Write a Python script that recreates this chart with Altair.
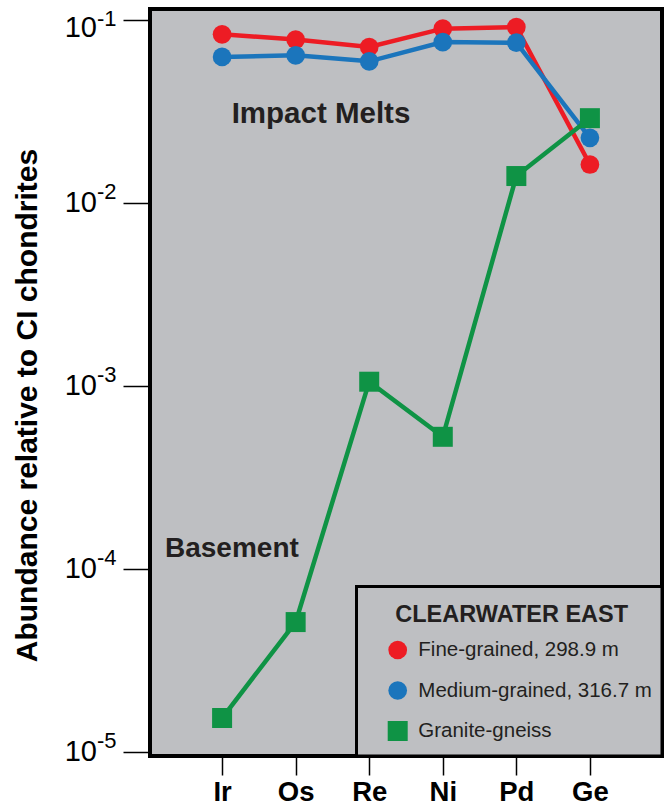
import altair as alt
import pandas as pd

# Siderophile element abundances, normalised to CI chondrites
elements = ["Ir", "Os", "Re", "Ni", "Pd", "Ge"]
fine_grained = [0.0839, 0.0785, 0.0715, 0.0901, 0.0919, 0.0163]
medium_grained = [0.0631, 0.0644, 0.0597, 0.0761, 0.0755, 0.0228]
granite_gneiss = [1.54e-5, 5.15e-5, 1.06e-3, 5.30e-4, 0.0141, 0.0292]

series_names = ["Fine-grained, 298.9 m", "Medium-grained, 316.7 m", "Granite-gneiss"]
series_values = [fine_grained, medium_grained, granite_gneiss]
series_colors = ["#ed1c24", "#1b75bc", "#0f9345"]
series_shapes = ["circle", "circle", "square"]

tick_values = [1e-1, 1e-2, 1e-3, 1e-4, 1e-5]
tick_exponents = ["-1", "-2", "-3", "-4", "-5"]

legend_title = "CLEARWATER EAST"
y_title = "Abundance relative to CI chondrites"
melt_label = "Impact Melts"
basement_label = "Basement"

FONT = "Liberation Sans"
PANEL = "#bebfc2"
W, H = 512, 747

x_enc = alt.X(
    "element:N",
    sort=elements,
    scale=alt.Scale(type="point", domain=elements, padding=0.98),
    axis=alt.Axis(
        title=None, labelAngle=0, domain=False, grid=False,
        tickSize=19, tickWidth=1.5, tickColor="black",
        labelFont=FONT, labelFontSize=27.5, labelFontWeight="bold",
        labelColor="black", labelPadding=3,
    ),
)

y_scale = alt.Scale(type="log", domain=[10 ** -5.02, 10 ** -0.938])
y_enc = alt.Y(
    "value:Q",
    scale=y_scale,
    axis=alt.Axis(
        values=tick_values, labels=False, domain=False, grid=False,
        tickSize=27, tickWidth=1.5, tickColor="black",
        title=y_title, titleFont=FONT, titleFontSize=30, titleFontWeight="bold",
        titleColor="black", titleX=-114, titleY=396, titleBaseline="alphabetic",
    ),
)

layers = []

# series: line first, markers on top; drawn red, blue, then green
for name, vals, color, shape in zip(series_names, series_values, series_colors, series_shapes):
    df = pd.DataFrame({"element": elements, "value": vals, "series": name})
    base = alt.Chart(df)
    layers.append(base.mark_line(color=color, strokeWidth=4.5).encode(x=x_enc, y=y_enc))
    size = 400 if shape == "square" else 350
    layers.append(
        base.mark_point(shape=shape, filled=True, size=size, color=color, opacity=1)
        .encode(x=x_enc, y=y_enc)
    )

# y tick labels written as 10 with a raised exponent; the topmost one sits a
# little lower so it stays inside the page
ticks_df = pd.DataFrame({"value": tick_values, "base": ["10"] * len(tick_values), "exp": tick_exponents})
ticks = alt.Chart(ticks_df)
for flt, base_dy, exp_dy in [("datum.value < 0.05", 0, -11), ("datum.value >= 0.05", 8, -1)]:
    layers.append(
        ticks.transform_filter(flt)
        .mark_text(align="right", baseline="middle", font=FONT, fontSize=29, color="black", dy=base_dy)
        .encode(y=y_enc, x=alt.value(-53), text="base:N")
    )
    layers.append(
        ticks.transform_filter(flt)
        .mark_text(align="left", baseline="middle", font=FONT, fontSize=22, color="black", dy=exp_dy)
        .encode(y=y_enc, x=alt.value(-53), text="exp:N")
    )

one = pd.DataFrame({"k": [0]})

# group annotations
layers.append(
    alt.Chart(one)
    .mark_text(text=melt_label, align="center", baseline="alphabetic", font=FONT,
               fontSize=29.5, fontWeight="bold", color="#231f20")
    .encode(x=alt.value(171), y=alt.value(114))
)
layers.append(
    alt.Chart(one)
    .mark_text(text=basement_label, align="left", baseline="alphabetic", font=FONT,
               fontSize=28, fontWeight="bold", color="#231f20")
    .encode(x=alt.value(15), y=alt.value(548))
)

# legend box
layers.append(
    alt.Chart(one)
    .mark_rect(fill=PANEL, stroke="black", strokeWidth=3)
    .encode(x=alt.value(206.5), x2=alt.value(W), y=alt.value(577.5), y2=alt.value(H))
)
layers.append(
    alt.Chart(one)
    .mark_text(text=legend_title, align="center", baseline="alphabetic", font=FONT,
               fontSize=23.5, fontWeight="bold", color="#231f20")
    .encode(x=alt.value(361.7), y=alt.value(612.7))
)
for i, (name, color, shape) in enumerate(zip(series_names, series_colors, series_shapes)):
    row_y = 641 + i * 40.5
    size = 400 if shape == "square" else 350
    layers.append(
        alt.Chart(one)
        .mark_point(shape=shape, filled=True, size=size, color=color, opacity=1)
        .encode(x=alt.value(247.7), y=alt.value(row_y))
    )
    layers.append(
        alt.Chart(one)
        .mark_text(text=name, align="left", baseline="middle", font=FONT,
                   fontSize=20.5, color="#231f20")
        .encode(x=alt.value(268.3), y=alt.value(row_y))
    )

chart = (
    alt.layer(*layers)
    .properties(
        width=W, height=H,
        autosize=alt.AutoSizeParams(type="none"),
        padding={"left": 150, "top": 9, "right": 7, "bottom": 50},
        background="white",
    )
    .configure_view(stroke="black", strokeWidth=4, fill=PANEL)
)

chart.save("out.html", embed_options={"renderer": "svg", "actions": False})
